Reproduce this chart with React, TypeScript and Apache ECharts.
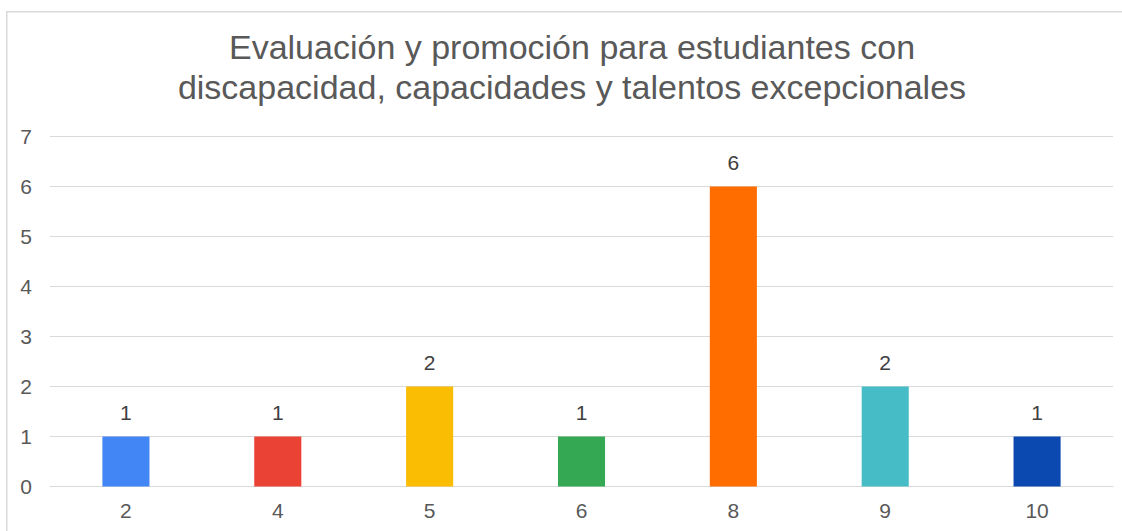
import React, { useEffect, useRef } from "react";
import * as echarts from "echarts";

const categories = ["2", "4", "5", "6", "8", "9", "10"];
const values = [1, 1, 2, 1, 6, 2, 1];
const barColors = ["#4285F4", "#EA4335", "#FBBC04", "#34A853", "#FF6D01", "#46BDC6", "#0B48AF"];
const titleText = "Evaluación y promoción para estudiantes con\ndiscapacidad, capacidades y talentos excepcionales";

export default function App() {
  const ref = useRef<HTMLDivElement>(null);
  useEffect(() => {
    if (!ref.current) return;
    const chart = echarts.init(ref.current, null, { renderer: "svg" });
    const font = "Liberation Sans";
    chart.setOption({
      animation: false,
      backgroundColor: "#ffffff",
      textStyle: { fontFamily: font },
      graphic: [
        {
          type: "rect",
          shape: { x: 6.75, y: 11.75, width: 1140, height: 560 },
          style: { fill: "none", stroke: "#d9d9d9", lineWidth: 1.5 },
          silent: true,
        },
        {
          type: "text",
          x: 572,
          y: 27,
          style: {
            text: titleText,
            fill: "#595959",
            fontSize: 34,
            fontFamily: font,
            lineHeight: 40,
            align: "center",
            verticalAlign: "top",
          },
        },
      ],
      grid: { left: 50, right: 9, top: 136.5, bottom: 44.5, containLabel: false },
      xAxis: {
        type: "category",
        data: categories,
        axisLine: { show: true, lineStyle: { color: "#d9d9d9", width: 1 } },
        axisTick: { show: false },
        axisLabel: { color: "#595959", fontSize: 21, fontFamily: font, margin: 13 },
      },
      yAxis: {
        type: "value",
        min: 0,
        max: 7,
        interval: 1,
        axisLine: { show: false },
        axisTick: { show: false },
        axisLabel: { color: "#595959", fontSize: 21, fontFamily: font, margin: 18 },
        splitLine: { show: true, lineStyle: { color: "#d9d9d9", width: 1 } },
      },
      series: [
        {
          type: "bar",
          data: values.map((v, i) => ({ value: v, itemStyle: { color: barColors[i] } })),
          barWidth: "31%",
          label: {
            show: true,
            position: "top",
            distance: 14,
            color: "#404040",
            fontSize: 21,
            fontFamily: font,
          },
        },
      ],
    });
    return () => chart.dispose();
  }, []);
  return (
    <div
      ref={ref}
      style={{ position: "absolute", left: 0, top: 0, width: 1122, height: 531 }}
    />
  );
}
